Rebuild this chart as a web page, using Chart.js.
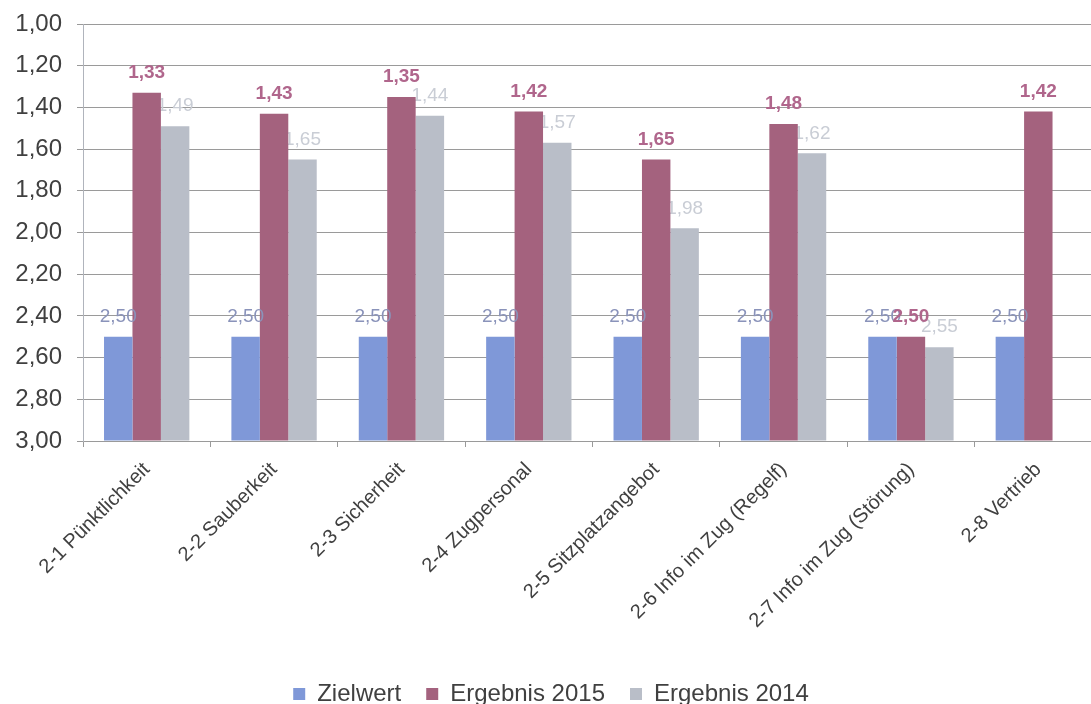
<!DOCTYPE html>
<html>
<head>
<meta charset="utf-8">
<script src="https://cdn.jsdelivr.net/npm/chart.js@4"></script>
<style>
  html, body { margin: 0; padding: 0; background: #fff; overflow: hidden; }
  #wrap { position: relative; width: 1110px; height: 716px; }
</style>
</head>
<body>
<div id="wrap"><canvas id="chart"></canvas></div>
<script>
const categories = [
  "2-1 Pünktlichkeit",
  "2-2 Sauberkeit",
  "2-3 Sicherheit",
  "2-4 Zugpersonal",
  "2-5 Sitzplatzangebot",
  "2-6 Info im Zug (Regelf)",
  "2-7 Info im Zug (Störung)",
  "2-8 Vertrieb",
];
const zielwert = [2.5, 2.5, 2.5, 2.5, 2.5, 2.5, 2.5, 2.5];
const ergebnis2015 = [1.33, 1.43, 1.35, 1.42, 1.65, 1.48, 2.5, 1.42];
const ergebnis2014 = [1.49, 1.65, 1.44, 1.57, 1.98, 1.62, 2.55, null];
const yTickLabels = ["1,00", "1,20", "1,40", "1,60", "1,80", "2,00", "2,20", "2,40", "2,60", "2,80", "3,00"];

const FONT = "'Liberation Sans', Arial, sans-serif";
const fmt = (v) => v.toFixed(2).replace(".", ",");

// value labels: 2014 sits behind the bars, the others on top
const labelStyle = [
  { color: "#8a93ba", weight: "normal", size: 19, layer: "after" },
  { color: "#b0668c", weight: "bold", size: 19, layer: "after" },
  { color: "#c9cdd5", weight: "normal", size: 19, layer: "before" },
];

const drawLabels = (chart, layer) => {
  const ctx = chart.ctx;
  chart.data.datasets.forEach((ds, di) => {
    const st = labelStyle[di];
    if (st.layer !== layer) return;
    const meta = chart.getDatasetMeta(di);
    ctx.save();
    ctx.font = `${st.weight} ${st.size}px ${FONT}`;
    ctx.fillStyle = st.color;
    ctx.textAlign = "center";
    ctx.textBaseline = "middle";
    meta.data.forEach((bar, i) => {
      const v = ds.data[i];
      if (v === null || v === undefined) return;
      ctx.fillText(fmt(v), bar.x, bar.y - 20);
    });
    ctx.restore();
  });
};

const valueLabels = {
  id: "valueLabels",
  beforeDatasetsDraw(chart) { drawLabels(chart, "before"); },
  afterDatasetsDraw(chart) { drawLabels(chart, "after"); },
};

const ctx = document.getElementById("chart").getContext("2d");

new Chart(ctx, {
  type: "bar",
  data: {
    labels: categories,
    datasets: [
      { label: "Zielwert", data: zielwert, backgroundColor: "#7f98d8", base: 3 },
      { label: "Ergebnis 2015", data: ergebnis2015, backgroundColor: "#a4627e", base: 3 },
      { label: "Ergebnis 2014", data: ergebnis2014, backgroundColor: "#b9bec8", base: 3 },
    ],
  },
  options: {
    responsive: true,
    maintainAspectRatio: false,
    animation: false,
    layout: { padding: { top: 24, right: 8, left: 0, bottom: 0 } },
    datasets: {
      bar: { categoryPercentage: 0.67, barPercentage: 1.0 },
    },
    plugins: {
      tooltip: { enabled: false },
      legend: {
        position: "bottom",
        labels: {
          boxWidth: 12,
          boxHeight: 12,
          padding: 25,
          color: "#404040",
          font: { family: FONT, size: 24 },
        },
      },
    },
    scales: {
      x: {
        grid: {
          offset: true,
          drawOnChartArea: false,
          color: "#9a9a9a",
          tickLength: 6,
        },
        border: { color: "#9a9a9a" },
        ticks: {
          minRotation: 45,
          maxRotation: 45,
          padding: 11,
          color: "#404040",
          font: { family: FONT, size: 20 },
        },
        afterFit: (s) => { s.height = 216; },
      },
      y: {
        reverse: true,
        min: 1,
        max: 3,
        grid: { color: "#9a9a9a", tickLength: 6 },
        border: { color: "#b0b4bc" },
        ticks: {
          stepSize: 0.2,
          padding: 15,
          color: "#404040",
          font: { family: FONT, size: 24 },
          callback: (v) => yTickLabels[Math.round((v - 1) / 0.2)],
        },
        afterFit: (s) => {
          s.width = 83;
          s.paddingTop = 0;
          s.paddingBottom = 0;
        },
      },
    },
  },
  plugins: [valueLabels],
});
</script>
</body>
</html>
